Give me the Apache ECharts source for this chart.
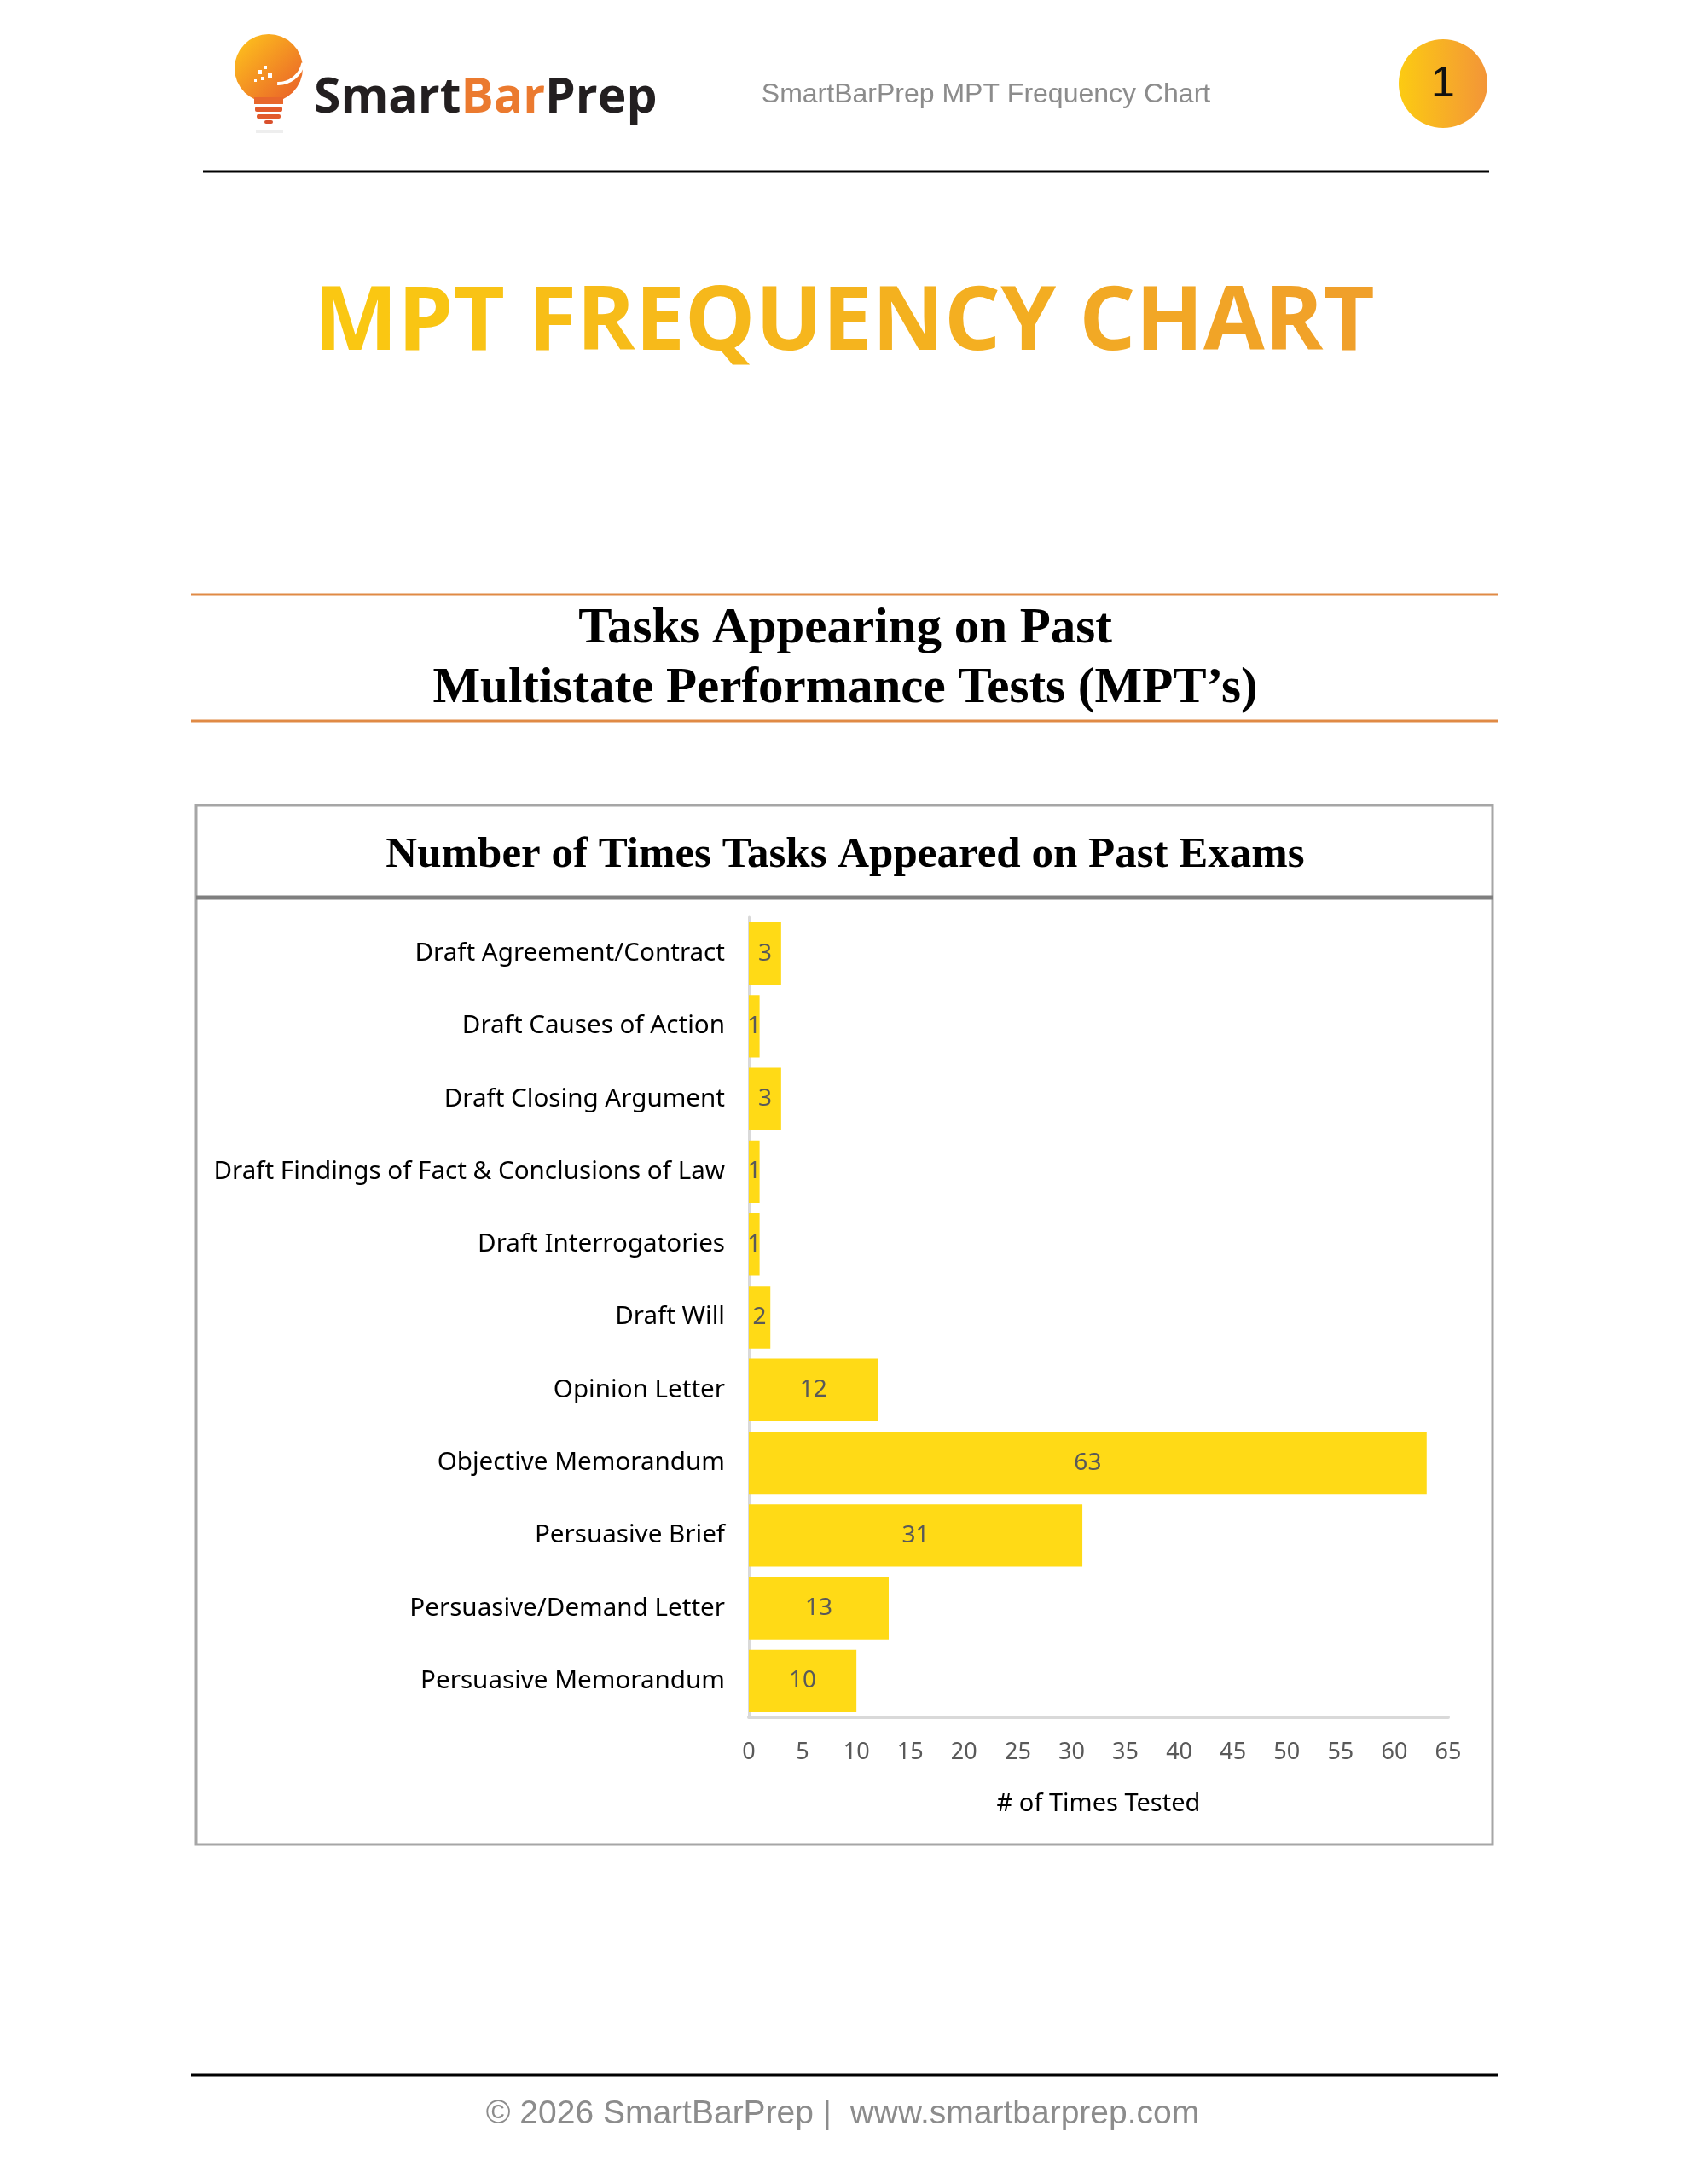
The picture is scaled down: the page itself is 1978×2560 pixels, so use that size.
<!DOCTYPE html>
<html>
<head>
<meta charset="UTF-8">
<title>MPT Frequency Chart</title>
<script src="https://cdn.jsdelivr.net/npm/echarts@6/dist/echarts.min.js"></script>
<style>
body{margin:0;background:#fff}
#page{width:1978px;height:2560px}
</style>
</head>
<body>
<div id="page"></div>
<script>
// data
var tasks = [
  'Draft Agreement/Contract',
  'Draft Causes of Action',
  'Draft Closing Argument',
  'Draft Findings of Fact & Conclusions of Law',
  'Draft Interrogatories',
  'Draft Will',
  'Opinion Letter',
  'Objective Memorandum',
  'Persuasive Brief',
  'Persuasive/Demand Letter',
  'Persuasive Memorandum'
];
var timesTested = [3, 1, 3, 1, 1, 2, 12, 63, 31, 13, 10];
var axisMin = 0, axisMax = 65, axisStep = 5;

var serif = '"Liberation Serif", "DejaVu Serif", serif';
var sans = '"Liberation Sans", Arial, sans-serif';
var labelFont = '"Noto Sans", "Open Sans", sans-serif';

var page = echarts.init(document.getElementById('page'));
var G = echarts.graphic;

// big title: gold -> orange across the letters (text gradients don't take, so colour each letter)
var bigTitle = 'MPT FREQUENCY CHART';
var titleRich = {}, titleText = '';
(function () {
  var a = [250, 199, 18], b = [240, 160, 42];
  for (var i = 0; i < bigTitle.length; i++) {
    var t = i / (bigTitle.length - 1);
    var c = 'rgb(' + Math.round(a[0] + (b[0] - a[0]) * t) + ',' + Math.round(a[1] + (b[1] - a[1]) * t) + ',' + Math.round(a[2] + (b[2] - a[2]) * t) + ')';
    titleRich['c' + i] = {fill: c, fontSize: 104, fontWeight: 'bold', fontFamily: '"Open Sans", sans-serif'};
    titleText += '{c' + i + '|' + (bigTitle[i] === ' ' ? '\u00A0' : bigTitle[i]) + '}';
  }
})();

var decor = [
  // logo bulb
  {type:'circle', shape:{cx:315, cy:80, r:40},
   style:{fill:new G.LinearGradient(0,0,1,1,[{offset:0,color:'#FFC81C'},{offset:1,color:'#E85A2A'}])}},
  {type:'rect', shape:{x:298, y:114, width:34, height:8}, style:{fill:'#E8672C'}},
  {type:'rect', shape:{x:299, y:125, width:32, height:6, r:2}, style:{fill:'#E25A2C'}},
  {type:'rect', shape:{x:301, y:134, width:28, height:5, r:2}, style:{fill:'#E25A2C'}},
  {type:'rect', shape:{x:310, y:141, width:10, height:4, r:2}, style:{fill:'#D9502C'}},
  {type:'rect', shape:{x:300, y:152, width:32, height:4}, style:{fill:'#eeeeee'}},
  {type:'arc', shape:{cx:326, cy:68, r:30, startAngle:0.2, endAngle:1.6}, style:{stroke:'#ffffff', lineWidth:4, fill:null}},
  {type:'rect', shape:{x:302, y:82, width:5, height:5}, style:{fill:'#fff'}},
  {type:'rect', shape:{x:309, y:77, width:4, height:4}, style:{fill:'#fff'}},
  {type:'rect', shape:{x:306, y:90, width:4, height:4}, style:{fill:'#fff'}},
  {type:'rect', shape:{x:314, y:86, width:5, height:5}, style:{fill:'#fff'}},
  {type:'rect', shape:{x:298, y:93, width:3, height:3}, style:{fill:'#fff'}},
  {type:'text', style:{x:368, y:116, text:'{d|Smart}{o|Bar}{d|Prep}', textVerticalAlign:'middle',
    rich:{d:{fill:'#231f20', fontSize:57, fontWeight:'bold', fontFamily:'"Open Sans", sans-serif'},
          o:{fill:'#EB7A2F', fontSize:57, fontWeight:'bold', fontFamily:'"Open Sans", sans-serif'}}}},

  // header subtitle + page number
  {type:'text', style:{x:1156, y:111, text:'SmartBarPrep MPT Frequency Chart', textAlign:'center', textVerticalAlign:'middle',
    fill:'#8c8c8c', fontSize:32, fontFamily:sans}},
  {type:'circle', shape:{cx:1692, cy:98, r:52},
   style:{fill:new G.LinearGradient(0,0,1,0,[{offset:0,color:'#FCCB12'},{offset:1,color:'#F39538'}])}},
  {type:'text', style:{x:1692, y:99, text:'1', textAlign:'center', textVerticalAlign:'middle',
    fill:'#111', fontSize:50, fontFamily:sans}},
  {type:'line', shape:{x1:238, y1:201, x2:1746, y2:201}, style:{stroke:'#000', lineWidth:3}},

  // big title
  {type:'text', style:{x:990, y:380, text:titleText, rich:titleRich, textAlign:'center', textVerticalAlign:'middle'}},

  // section heading with orange rules
  {type:'line', shape:{x1:224, y1:697, x2:1756, y2:697}, style:{stroke:'#E08A45', lineWidth:3}},
  {type:'text', style:{x:991, y:738, text:'Tasks Appearing on Past', textAlign:'center', textVerticalAlign:'middle',
    fill:'#000', fontSize:59, fontWeight:'bold', fontFamily:serif}},
  {type:'text', style:{x:991, y:808, text:'Multistate Performance Tests (MPT\u2019s)', textAlign:'center', textVerticalAlign:'middle',
    fill:'#000', fontSize:59, fontWeight:'bold', fontFamily:serif}},
  {type:'line', shape:{x1:224, y1:845, x2:1756, y2:845}, style:{stroke:'#E08A45', lineWidth:3}},

  // chart frame
  {type:'rect', shape:{x:230, y:944, width:1520, height:1218}, style:{fill:null, stroke:'#a6a6a6', lineWidth:3}},
  {type:'line', shape:{x1:230, y1:1052, x2:1750, y2:1052}, style:{stroke:'#7f7f7f', lineWidth:5}},
  {type:'text', style:{x:991, y:1003, text:'Number of Times Tasks Appeared on Past Exams', textAlign:'center', textVerticalAlign:'middle',
    fill:'#000', fontSize:51, fontWeight:'bold', fontFamily:serif}},

  // footer
  {type:'line', shape:{x1:224, y1:2432, x2:1756, y2:2432}, style:{stroke:'#000', lineWidth:3}},
  {type:'text', style:{x:988, y:2478, text:'\u00A9 2026 SmartBarPrep |  www.smartbarprep.com', textAlign:'center', textVerticalAlign:'middle',
    fill:'#8c8c8c', fontSize:39, fontFamily:sans}}
];

page.setOption({
  animation: false,
  backgroundColor: '#ffffff',
  graphic: decor,
  grid: {left: 878, top: 1075, width: 820, height: 938, containLabel: false},
  xAxis: {
    type: 'value',
    min: axisMin, max: axisMax, interval: axisStep,
    name: '# of Times Tested',
    nameLocation: 'middle',
    nameGap: 87,
    nameTextStyle: {color: '#000', fontSize: 29, fontFamily: labelFont},
    axisLine: {show: true, lineStyle: {color: '#d9d9d9', width: 4}},
    axisTick: {show: false},
    splitLine: {show: false},
    axisLabel: {color: '#595959', fontSize: 27, fontFamily: labelFont, margin: 28}
  },
  yAxis: {
    type: 'category',
    inverse: true,
    data: tasks,
    axisLine: {show: true, lineStyle: {color: '#d9d9d9', width: 3}},
    axisTick: {show: false},
    axisLabel: {color: '#000', fontSize: 29.6, fontFamily: labelFont, margin: 28}
  },
  series: [{
    name: '# of Times Tested',
    type: 'bar',
    data: timesTested,
    barCategoryGap: '14%',
    itemStyle: {color: '#FFDA16'},
    label: {show: true, position: 'inside', color: '#595959', fontSize: 28, fontFamily: labelFont}
  }]
});
</script>
</body>
</html>
